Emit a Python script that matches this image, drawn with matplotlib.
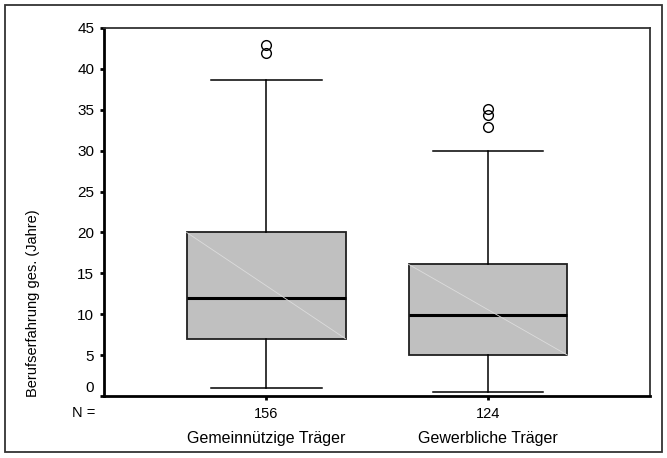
import matplotlib
matplotlib.use("Agg")
import matplotlib.pyplot as plt
import matplotlib.transforms as mtransforms
from matplotlib.patches import Rectangle

plt.rcParams['font.family'] = ['Liberation Sans Narrow', 'Liberation Sans', 'DejaVu Sans']

# box statistics per provider type (years of work experience)
groups = ["Gemeinnützige Träger", "Gewerbliche Träger"]
counts = [156, 124]
q1 = [7.0, 5.0]
medians = [12.0, 9.9]
q3 = [20.0, 16.1]
whisker_lo = [1.0, 0.5]
whisker_hi = [38.7, 29.9]
outliers = [[42.9, 42.0], [35.1, 34.4, 32.9]]

stats = []
for i in range(len(groups)):
    stats.append(dict(med=medians[i], q1=q1[i], q3=q3[i],
                      whislo=whisker_lo[i], whishi=whisker_hi[i],
                      fliers=outliers[i], label=groups[i]))

W, H = 667, 458
fig = plt.figure(figsize=(W / 100, H / 100), dpi=100)
ax = fig.add_axes([0.156, 0.1354, 0.8185, 0.8035])

positions = [1, 2]
width = 0.716
ax.bxp(stats, positions=positions, widths=width, patch_artist=True,
       boxprops=dict(facecolor='#c0c0c0', edgecolor='#202020', linewidth=1.3),
       medianprops=dict(color='black', linewidth=2.2),
       whiskerprops=dict(color='black', linewidth=1.1),
       capprops=dict(color='black', linewidth=1.1),
       capwidths=0.5,
       flierprops=dict(marker='o', markersize=7, markerfacecolor='none',
                       markeredgecolor='black', markeredgewidth=1.0))

# faint diagonal through each box
for p, lo, hi in zip(positions, q1, q3):
    ax.plot([p - width / 2, p + width / 2], [hi, lo], color='#dcdcdc', lw=0.6, zorder=3)

ax.set_xlim(0.27, 2.73)
ax.set_ylim(0, 45)
ax.set_yticks(range(0, 50, 5))
ax.set_xticks(positions)
ax.set_xticklabels([str(c) for c in counts])
ax.tick_params(axis='y', labelsize=11, length=3, width=2, direction='out', pad=4)
ax.tick_params(axis='x', labelsize=10.5, length=3, width=2, direction='out', pad=5)

# lift the zero label a bit off the corner
for lab in ax.get_yticklabels():
    if lab.get_text() == '0':
        lab.set_transform(lab.get_transform() + mtransforms.ScaledTranslation(0, 7 / 72, fig.dpi_scale_trans))

for side in ['left', 'bottom']:
    ax.spines[side].set_linewidth(2)
for side in ['top', 'right']:
    ax.spines[side].set_linewidth(1.3)
    ax.spines[side].set_color('#333333')

# y label sits low, starting at the bottom of the axis
fig.text(33 / W, 1 - 397 / H, "Berufserfahrung ges. (Jahre)", rotation=90,
         ha='center', va='bottom', fontsize=10.5)

ax.text(-0.015, -0.045, "N =", transform=ax.transAxes, ha='right', va='center', fontsize=10.5)
for p, g in zip(positions, groups):
    ax.text(p, -0.115, g, transform=ax.get_xaxis_transform(), ha='center', va='center', fontsize=11.5)

# outer frame around the chart
fig.patches.append(Rectangle((5 / W, 6 / H), 657 / W, 447 / H, transform=fig.transFigure,
                             fill=False, edgecolor='#333333', linewidth=1.3))

fig.savefig("out.png", dpi=100)
